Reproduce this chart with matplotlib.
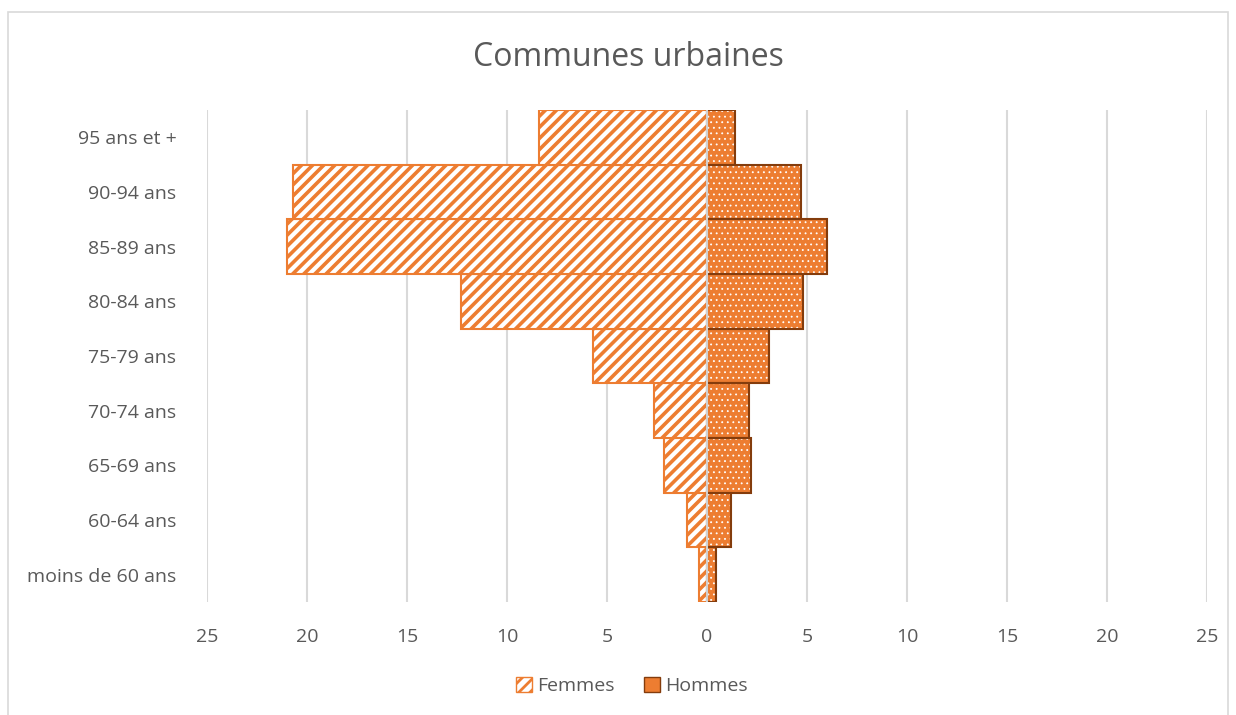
import matplotlib.pyplot as plt
from matplotlib.patches import Patch, Rectangle

plt.rcParams['font.family'] = ['Open Sans', 'DejaVu Sans']

categories = ['moins de 60 ans', '60-64 ans', '65-69 ans', '70-74 ans', '75-79 ans',
              '80-84 ans', '85-89 ans', '90-94 ans', '95 ans et +']
femmes = [0.4, 1.0, 2.15, 2.65, 5.7, 12.3, 21.0, 20.7, 8.4]
hommes = [0.45, 1.2, 2.2, 2.1, 3.1, 4.8, 6.0, 4.7, 1.4]
ticks = [-25, -20, -15, -10, -5, 0, 5, 10, 15, 20, 25]

orange = '#ED7D31'
dark = '#843C0C'
grey = '#595959'

fig = plt.figure(figsize=(12.36, 7.15), dpi=100)
fig.patches.append(Rectangle((8 / 1236, -0.01), 1 - 16 / 1236, 1 - 12 / 715 + 0.01,
                             transform=fig.transFigure, fill=False,
                             edgecolor='#D9D9D9', linewidth=1.2))
ax = fig.add_axes([207 / 1236, 1 - 602 / 715, 1000 / 1236, 492 / 715])

y = range(len(categories))
for t in ticks:
    ax.axvline(t, color='#D9D9D9', linewidth=1.5, zorder=0)

# femmes: white with orange stripes
plt.rcParams['hatch.linewidth'] = 2.6
ax.barh(y, [-v for v in femmes], height=1.0, color='white', edgecolor=orange,
        hatch='///', linewidth=1.5, zorder=2)
# hommes: orange with small white dots
plt.rcParams['hatch.linewidth'] = 0.6
ax.barh(y, hommes, height=1.0, color=orange, edgecolor='white',
        hatch='...', linewidth=0, zorder=2)
ax.barh(y, hommes, height=1.0, color='none', edgecolor=dark, linewidth=1.5, zorder=3)
ax.axvline(0, color='#D0D0D0', linewidth=1.5, zorder=4)

ax.set_xlim(-25, 25)
ax.set_ylim(-0.5, len(categories) - 0.5)
ax.set_xticks(ticks)
ax.set_xticklabels([str(abs(t)) for t in ticks])
ax.set_yticks(list(y))
ax.set_yticklabels(categories)
ax.tick_params(length=0, labelsize=14, labelcolor=grey)
ax.tick_params(axis='x', pad=19)
ax.tick_params(axis='y', pad=22)
for s in ax.spines.values():
    s.set_visible(False)

fig.text(628 / 1236, 1 - 57 / 715, 'Communes urbaines', ha='center', va='center',
         fontsize=23, color=grey)

plt.rcParams['hatch.linewidth'] = 2.0
handles = [Patch(facecolor='white', edgecolor=orange, hatch='///', label='Femmes'),
           Patch(facecolor=orange, edgecolor=dark, label='Hommes')]
fig.legend(handles=handles, loc='center', bbox_to_anchor=(632 / 1236, 1 - 686 / 715),
           ncol=2, frameon=False, fontsize=14, labelcolor=grey, handlelength=0.8,
           handleheight=0.8, handletextpad=0.3, columnspacing=1.5)

fig.savefig('out.png', dpi=100)
